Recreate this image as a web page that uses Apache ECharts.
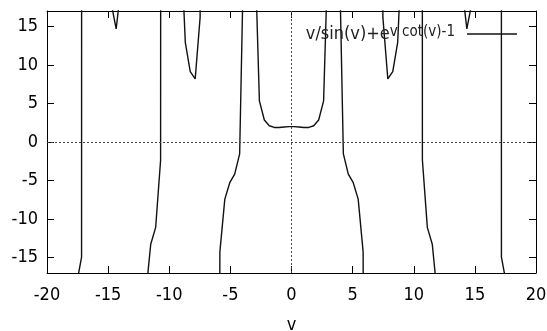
<!DOCTYPE html>
<html>
<head>
<meta charset="utf-8">
<script src="https://cdn.jsdelivr.net/npm/echarts@6/dist/echarts.min.js"></script>
<style>
  html, body { margin: 0; padding: 0; background: #fff; }
  #chart { width: 547px; height: 331px; }
</style>
</head>
<body>
<div id="chart"></div>
<script>
// sample positions (gnuplot default 100 samples on [-20, 20])
const vs = [
  -20.000, -19.596, -19.192, -18.788, -18.384, -17.980, -17.576, -17.172, -16.768, -16.364,
  -15.960, -15.556, -15.152, -14.747, -14.343, -13.939, -13.535, -13.131, -12.727, -12.323,
  -11.919, -11.515, -11.111, -10.707, -10.303, -9.899, -9.495, -9.091, -8.687, -8.283,
  -7.879, -7.475, -7.071, -6.667, -6.263, -5.859, -5.455, -5.051, -4.646, -4.242,
  -3.838, -3.434, -3.030, -2.626, -2.222, -1.818, -1.414, -1.010, -0.606, -0.202,
  0.202, 0.606, 1.010, 1.414, 1.818, 2.222, 2.626, 3.030, 3.434, 3.838,
  4.242, 4.646, 5.051, 5.455, 5.859, 6.263, 6.667, 7.071, 7.475, 7.879,
  8.283, 8.687, 9.091, 9.495, 9.899, 10.303, 10.707, 11.111, 11.515, 11.919,
  12.323, 12.727, 13.131, 13.535, 13.939, 14.343, 14.747, 15.152, 15.556, 15.960,
  16.364, 16.768, 17.172, 17.576, 17.980, 18.384, 18.788, 19.192, 19.596, 20.000
];
// curve values (off-scale ones are rough estimates, only their direction matters)
const fs = [
  2810, 100000, 100000, -303, -40.9, -23.5, -18.39, -14.95, 4415, 100000,
  100000, 102.7, 28.7, 18.0, 14.67, 20.24, 4040, 100000, 100000, -51.2,
  -19.78, -13.26, -11.08, -2.34, 1878, 100000, 100000, 27.7, 12.92, 9.12,
  8.18, 16.17, 452, 100000, -310, -14.26, -7.41, -5.28, -4.16, -1.55,
  30.5, 31600, 27.2, 5.33, 2.86, 2.11, 1.89, 1.89, 1.95, 1.99,
  1.99, 1.95, 1.89, 1.89, 2.11, 2.86, 5.33, 27.2, 31600, 30.5,
  -1.55, -4.16, -5.28, -7.41, -14.26, -310, 100000, 452, 16.17, 8.18,
  9.12, 12.92, 27.7, 100000, 100000, 1878, -2.34, -11.08, -13.26, -19.78,
  -51.2, 100000, 100000, 4040, 20.24, 14.67, 18.0, 28.7, 102.7, 100000,
  100000, 4415, -14.95, -18.39, -23.5, -40.9, -303, 100000, 100000, 2810
];
const yTicks = [-15, -10, -5, 0, 5, 10, 15];
const yLimit = 17;
const seriesName = 'v/sin(v)+e^{v cot(v)-1}';

const FONT = 'DejaVu Sans Condensed, "Open Sans", sans-serif';

// like gnuplot: no segment between two points that are both off the plot on opposite sides
const lineData = [];
for (let i = 0; i < vs.length; i++) {
  if (i > 0) {
    const a = fs[i - 1], b = fs[i];
    if ((a > yLimit && b < -yLimit) || (a < -yLimit && b > yLimit)) {
      lineData.push([vs[i], '-']);
    }
  }
  lineData.push([vs[i], fs[i]]);
}

const chart = echarts.init(document.getElementById('chart'));

const tickStyle = { show: true, inside: true, length: 7, lineStyle: { color: '#000', width: 1 } };
const lineStyleAxis = { show: true, onZero: false, lineStyle: { color: '#000', width: 1 } };

chart.setOption({
  animation: false,
  textStyle: { fontFamily: FONT },
  grid: { left: 47, right: 11, top: 11, bottom: 58, outerBoundsMode: 'none', containLabel: false },
  legend: {
    right: 30,
    top: 19,
    padding: 0,
    align: 'right',
    itemWidth: 50,
    itemHeight: 1.5,
    icon: 'rect',
    itemStyle: { color: '#111' },
    data: [seriesName],
    formatter: () => '{a|v/sin(v)+e}{b|v cot(v)-1}',
    textStyle: {
      rich: {
        a: { fontSize: 18, fontFamily: FONT, color: '#222', lineHeight: 18, padding: [6, 0, 0, 0], verticalAlign: 'bottom' },
        b: { fontSize: 15, fontFamily: FONT, color: '#222', lineHeight: 15, padding: [0, 7, 0, 0], verticalAlign: 'top' }
      }
    }
  },
  xAxis: [
    {
      type: 'value', min: -20, max: 20, interval: 5, position: 'bottom',
      axisLine: lineStyleAxis, axisTick: tickStyle, splitLine: { show: false },
      axisLabel: { fontSize: 18, color: '#000', margin: 13, fontFamily: FONT },
      name: 'v', nameLocation: 'middle', nameGap: 43,
      nameTextStyle: { fontSize: 18, color: '#000', fontFamily: FONT }
    },
    {
      type: 'value', min: -20, max: 20, interval: 5, position: 'top',
      axisLine: lineStyleAxis, axisTick: tickStyle, splitLine: { show: false },
      axisLabel: { show: false }
    }
  ],
  yAxis: [
    {
      type: 'value', min: -17, max: 17, position: 'left',
      axisLine: lineStyleAxis,
      axisTick: Object.assign({}, tickStyle, { customValues: yTicks }),
      axisLabel: { customValues: yTicks, fontSize: 18, color: '#000', margin: 9, fontFamily: FONT },
      splitLine: { show: false }
    },
    {
      type: 'value', min: -17, max: 17, position: 'right',
      axisLine: lineStyleAxis,
      axisTick: Object.assign({}, tickStyle, { customValues: yTicks }),
      axisLabel: { show: false },
      splitLine: { show: false }
    }
  ],
  series: [
    {
      name: seriesName,
      type: 'line',
      xAxisIndex: 0,
      yAxisIndex: 0,
      data: lineData,
      symbol: 'none',
      showSymbol: false,
      connectNulls: false,
      clip: true,
      lineStyle: { color: '#111', width: 1.4 },
      itemStyle: { color: '#111' },
      markLine: {
        silent: true,
        symbol: ['none', 'none'],
        label: { show: false },
        lineStyle: { type: [2, 2], color: '#444', width: 1 },
        data: [{ yAxis: 0 }, { xAxis: 0 }]
      }
    }
  ]
});
</script>
</body>
</html>
